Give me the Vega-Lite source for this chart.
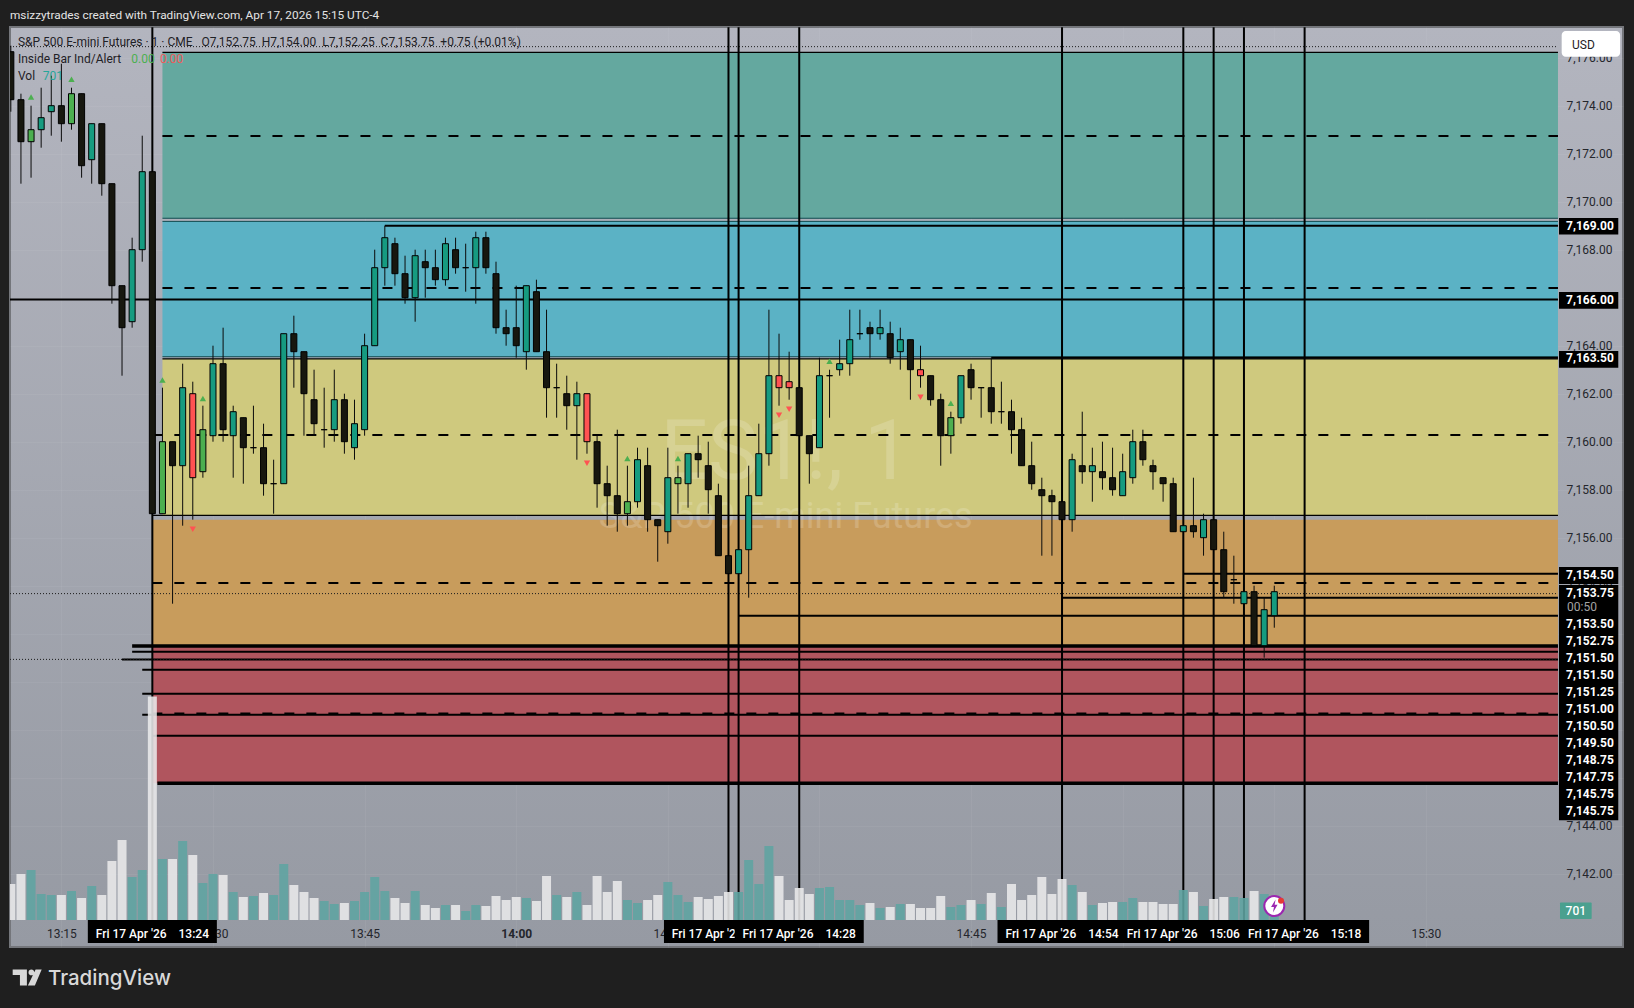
{
  "$schema": "https://vega.github.io/schema/vega-lite/v6.json",
  "autosize": {"type": "none"},
  "padding": {"left": 10, "top": 27, "right": 11, "bottom": 61},
  "width": 1613,
  "height": 920,
  "background": "#1f1f1f",
  "view": {
    "fill": {"gradient": "linear", "x1": 0, "y1": 0, "x2": 0, "y2": 1, "stops": [{"offset": 0, "color": "#b3b5bf"}, {"offset": 1, "color": "#969aa3"}]},
    "stroke": "#74767b",
    "strokeWidth": 2
  },
  "title": {"text": "msizzytrades created with TradingView.com, Apr 17, 2026 15:15 UTC-4", "anchor": "start", "frame": "group", "font": "Roboto", "fontSize": 11.8, "fontWeight": "normal", "color": "#e4e4e4", "offset": 4},
  "resolve": {"scale": {"y": "independent"}, "axis": {"x": "independent", "y": "independent"}},
  "datasets": {
    "bars": [
      {"t":"2026-04-17T13:10Z","o":7176.25,"h":7176.5,"l":7173.75,"c":7174.25,"k":"down","v":1800,"vk":"volDown"},
      {"t":"2026-04-17T13:11Z","o":7174.25,"h":7174.5,"l":7170.75,"c":7172.5,"k":"down","v":2300,"vk":"volDown"},
      {"t":"2026-04-17T13:12Z","o":7172.5,"h":7174,"l":7171,"c":7173,"k":"upInside","v":2500,"vk":"volUp"},
      {"t":"2026-04-17T13:13Z","o":7173,"h":7174.75,"l":7172.25,"c":7173.5,"k":"up","v":1300,"vk":"volUp"},
      {"t":"2026-04-17T13:14Z","o":7173.75,"h":7175.25,"l":7172.75,"c":7174,"k":"up","v":1250,"vk":"volUp"},
      {"t":"2026-04-17T13:15Z","o":7174,"h":7175.75,"l":7172.5,"c":7173.25,"k":"down","v":1250,"vk":"volDown"},
      {"t":"2026-04-17T13:16Z","o":7173.25,"h":7174.75,"l":7173,"c":7174.5,"k":"upInside","v":1450,"vk":"volUp"},
      {"t":"2026-04-17T13:17Z","o":7174.5,"h":7174.5,"l":7171,"c":7171.5,"k":"down","v":1100,"vk":"volDown"},
      {"t":"2026-04-17T13:18Z","o":7171.75,"h":7173.25,"l":7170.75,"c":7173.25,"k":"up","v":1700,"vk":"volUp"},
      {"t":"2026-04-17T13:19Z","o":7173.25,"h":7173.25,"l":7170.25,"c":7170.75,"k":"down","v":1250,"vk":"volDown"},
      {"t":"2026-04-17T13:20Z","o":7170.75,"h":7170.75,"l":7165.75,"c":7166.5,"k":"down","v":2950,"vk":"volDown"},
      {"t":"2026-04-17T13:21Z","o":7166.5,"h":7166.5,"l":7162.75,"c":7164.75,"k":"down","v":4000,"vk":"volDown"},
      {"t":"2026-04-17T13:22Z","o":7165,"h":7168.5,"l":7164.75,"c":7168,"k":"up","v":2150,"vk":"volUp"},
      {"t":"2026-04-17T13:23Z","o":7168,"h":7172.75,"l":7167.5,"c":7171.25,"k":"up","v":2500,"vk":"volUp"},
      {"t":"2026-04-17T13:24Z","o":7171.25,"h":7171.25,"l":7157,"c":7157,"k":"down","v":11170,"vk":"volDown"},
      {"t":"2026-04-17T13:25Z","o":7157,"h":7162.25,"l":7157,"c":7160,"k":"upInside","v":3050,"vk":"volUp"},
      {"t":"2026-04-17T13:26Z","o":7160,"h":7160,"l":7153.25,"c":7159,"k":"down","v":3050,"vk":"volDown"},
      {"t":"2026-04-17T13:27Z","o":7159,"h":7163.25,"l":7156.5,"c":7162.25,"k":"up","v":3950,"vk":"volUp"},
      {"t":"2026-04-17T13:28Z","o":7162,"h":7162.5,"l":7156.75,"c":7158.5,"k":"downInside","v":3250,"vk":"volDown"},
      {"t":"2026-04-17T13:29Z","o":7158.75,"h":7161.5,"l":7158.5,"c":7160.5,"k":"upInside","v":1850,"vk":"volUp"},
      {"t":"2026-04-17T13:30Z","o":7160.25,"h":7164,"l":7160,"c":7163.25,"k":"up","v":2300,"vk":"volUp"},
      {"t":"2026-04-17T13:31Z","o":7163.25,"h":7164.75,"l":7160,"c":7160.5,"k":"down","v":2250,"vk":"volDown"},
      {"t":"2026-04-17T13:32Z","o":7160.25,"h":7161.5,"l":7158.5,"c":7161.25,"k":"up","v":1400,"vk":"volUp"},
      {"t":"2026-04-17T13:33Z","o":7161,"h":7161,"l":7158.25,"c":7159.75,"k":"down","v":1150,"vk":"volDown"},
      {"t":"2026-04-17T13:34Z","o":7159.75,"h":7161.5,"l":7159.5,"c":7159.75,"k":"down","v":1200,"vk":"volUp"},
      {"t":"2026-04-17T13:35Z","o":7159.75,"h":7160.75,"l":7157.75,"c":7158.25,"k":"down","v":1350,"vk":"volDown"},
      {"t":"2026-04-17T13:36Z","o":7158.25,"h":7159.25,"l":7157,"c":7158.25,"k":"down","v":1250,"vk":"volUp"},
      {"t":"2026-04-17T13:37Z","o":7158.25,"h":7164.5,"l":7158.25,"c":7164.5,"k":"up","v":2800,"vk":"volUp"},
      {"t":"2026-04-17T13:38Z","o":7164.5,"h":7165.25,"l":7162.25,"c":7163.75,"k":"down","v":1750,"vk":"volDown"},
      {"t":"2026-04-17T13:39Z","o":7163.75,"h":7163.75,"l":7160.25,"c":7162,"k":"down","v":1400,"vk":"volDown"},
      {"t":"2026-04-17T13:40Z","o":7161.75,"h":7163,"l":7160.25,"c":7160.75,"k":"down","v":1100,"vk":"volDown"},
      {"t":"2026-04-17T13:41Z","o":7160.5,"h":7162.25,"l":7159.75,"c":7160.5,"k":"down","v":950,"vk":"volUp"},
      {"t":"2026-04-17T13:42Z","o":7160.5,"h":7163,"l":7160,"c":7161.75,"k":"up","v":800,"vk":"volUp"},
      {"t":"2026-04-17T13:43Z","o":7161.75,"h":7162,"l":7159.5,"c":7160,"k":"down","v":850,"vk":"volDown"},
      {"t":"2026-04-17T13:44Z","o":7159.75,"h":7161.75,"l":7159.25,"c":7160.75,"k":"up","v":950,"vk":"volUp"},
      {"t":"2026-04-17T13:45Z","o":7160.5,"h":7164.5,"l":7160.25,"c":7164,"k":"up","v":1400,"vk":"volUp"},
      {"t":"2026-04-17T13:46Z","o":7164,"h":7168,"l":7164,"c":7167.25,"k":"up","v":2150,"vk":"volUp"},
      {"t":"2026-04-17T13:47Z","o":7167.25,"h":7169,"l":7166.5,"c":7168.5,"k":"up","v":1450,"vk":"volUp"},
      {"t":"2026-04-17T13:48Z","o":7168.25,"h":7168.5,"l":7166.5,"c":7167,"k":"down","v":1100,"vk":"volDown"},
      {"t":"2026-04-17T13:49Z","o":7167,"h":7167.75,"l":7165.75,"c":7166,"k":"down","v":850,"vk":"volDown"},
      {"t":"2026-04-17T13:50Z","o":7166,"h":7168,"l":7165,"c":7167.75,"k":"up","v":1450,"vk":"volUp"},
      {"t":"2026-04-17T13:51Z","o":7167.5,"h":7168,"l":7166,"c":7167.25,"k":"down","v":750,"vk":"volDown"},
      {"t":"2026-04-17T13:52Z","o":7167.25,"h":7168,"l":7166.5,"c":7166.75,"k":"down","v":600,"vk":"volDown"},
      {"t":"2026-04-17T13:53Z","o":7166.75,"h":7168.5,"l":7166.5,"c":7168.25,"k":"up","v":750,"vk":"volUp"},
      {"t":"2026-04-17T13:54Z","o":7168,"h":7168.5,"l":7167,"c":7167.25,"k":"down","v":750,"vk":"volDown"},
      {"t":"2026-04-17T13:55Z","o":7167.25,"h":7168.25,"l":7166.25,"c":7167.25,"k":"down","v":450,"vk":"volUp"},
      {"t":"2026-04-17T13:56Z","o":7167.25,"h":7168.75,"l":7165.75,"c":7168.5,"k":"up","v":750,"vk":"volUp"},
      {"t":"2026-04-17T13:57Z","o":7168.5,"h":7168.75,"l":7167,"c":7167.25,"k":"down","v":700,"vk":"volDown"},
      {"t":"2026-04-17T13:58Z","o":7167,"h":7167.5,"l":7164.5,"c":7164.75,"k":"down","v":1200,"vk":"volDown"},
      {"t":"2026-04-17T13:59Z","o":7164.75,"h":7165.5,"l":7164,"c":7164.5,"k":"down","v":1000,"vk":"volDown"},
      {"t":"2026-04-17T14:00Z","o":7164.75,"h":7166.5,"l":7163.5,"c":7164,"k":"down","v":1150,"vk":"volDown"},
      {"t":"2026-04-17T14:01Z","o":7163.75,"h":7166.5,"l":7163,"c":7166.5,"k":"up","v":1100,"vk":"volUp"},
      {"t":"2026-04-17T14:02Z","o":7166.25,"h":7166.75,"l":7163.75,"c":7163.75,"k":"down","v":950,"vk":"volDown"},
      {"t":"2026-04-17T14:03Z","o":7163.75,"h":7165.5,"l":7161,"c":7162.25,"k":"down","v":2200,"vk":"volDown"},
      {"t":"2026-04-17T14:04Z","o":7162.25,"h":7163.25,"l":7161,"c":7162.25,"k":"down","v":1250,"vk":"volUp"},
      {"t":"2026-04-17T14:05Z","o":7162,"h":7162.75,"l":7160.5,"c":7161.5,"k":"down","v":1150,"vk":"volDown"},
      {"t":"2026-04-17T14:06Z","o":7161.5,"h":7162.5,"l":7159.25,"c":7162,"k":"up","v":1400,"vk":"volUp"},
      {"t":"2026-04-17T14:07Z","o":7162,"h":7162,"l":7159.5,"c":7160,"k":"downInside","v":750,"vk":"volDown"},
      {"t":"2026-04-17T14:08Z","o":7160,"h":7160.25,"l":7157.25,"c":7158.25,"k":"down","v":2200,"vk":"volDown"},
      {"t":"2026-04-17T14:09Z","o":7158.25,"h":7159,"l":7156.5,"c":7157.75,"k":"down","v":1400,"vk":"volDown"},
      {"t":"2026-04-17T14:10Z","o":7157.75,"h":7160.5,"l":7156.25,"c":7157,"k":"down","v":1950,"vk":"volDown"},
      {"t":"2026-04-17T14:11Z","o":7157,"h":7159,"l":7156.5,"c":7157.5,"k":"upInside","v":1000,"vk":"volUp"},
      {"t":"2026-04-17T14:12Z","o":7157.5,"h":7159.75,"l":7157.25,"c":7159.25,"k":"up","v":850,"vk":"volUp"},
      {"t":"2026-04-17T14:13Z","o":7159,"h":7159.75,"l":7156.25,"c":7156.75,"k":"down","v":1000,"vk":"volDown"},
      {"t":"2026-04-17T14:14Z","o":7156.75,"h":7156.75,"l":7155,"c":7156.5,"k":"down","v":1250,"vk":"volDown"},
      {"t":"2026-04-17T14:15Z","o":7156.25,"h":7159.75,"l":7155.75,"c":7158.5,"k":"up","v":1900,"vk":"volUp"},
      {"t":"2026-04-17T14:16Z","o":7158.25,"h":7159,"l":7157,"c":7158.5,"k":"upInside","v":1250,"vk":"volUp"},
      {"t":"2026-04-17T14:17Z","o":7158.25,"h":7159.5,"l":7157.25,"c":7159.5,"k":"up","v":900,"vk":"volUp"},
      {"t":"2026-04-17T14:18Z","o":7159.5,"h":7160.25,"l":7158.5,"c":7159.25,"k":"down","v":1150,"vk":"volDown"},
      {"t":"2026-04-17T14:19Z","o":7159,"h":7160,"l":7157,"c":7158,"k":"down","v":1050,"vk":"volDown"},
      {"t":"2026-04-17T14:20Z","o":7157.75,"h":7158.25,"l":7155.25,"c":7155.25,"k":"down","v":1200,"vk":"volDown"},
      {"t":"2026-04-17T14:21Z","o":7155.25,"h":7155.25,"l":7154.5,"c":7154.5,"k":"down","v":1400,"vk":"volDown"},
      {"t":"2026-04-17T14:22Z","o":7154.5,"h":7155.5,"l":7154.5,"c":7155.5,"k":"up","v":1400,"vk":"volUp"},
      {"t":"2026-04-17T14:23Z","o":7155.5,"h":7159,"l":7153.5,"c":7157.75,"k":"up","v":3000,"vk":"volUp"},
      {"t":"2026-04-17T14:24Z","o":7157.75,"h":7160.75,"l":7157.75,"c":7159.5,"k":"up","v":1800,"vk":"volUp"},
      {"t":"2026-04-17T14:25Z","o":7159.5,"h":7165.5,"l":7159,"c":7162.75,"k":"up","v":3700,"vk":"volUp"},
      {"t":"2026-04-17T14:26Z","o":7162.75,"h":7164.5,"l":7161.5,"c":7162.25,"k":"downInside","v":2200,"vk":"volDown"},
      {"t":"2026-04-17T14:27Z","o":7162.5,"h":7163.75,"l":7161.75,"c":7162.25,"k":"downInside","v":1000,"vk":"volDown"},
      {"t":"2026-04-17T14:28Z","o":7162.25,"h":7162.25,"l":7160.25,"c":7160.25,"k":"down","v":1600,"vk":"volDown"},
      {"t":"2026-04-17T14:29Z","o":7160.25,"h":7160.25,"l":7158.25,"c":7159.5,"k":"down","v":1300,"vk":"volDown"},
      {"t":"2026-04-17T14:30Z","o":7159.75,"h":7163.5,"l":7159.75,"c":7162.75,"k":"up","v":1600,"vk":"volUp"},
      {"t":"2026-04-17T14:31Z","o":7162.75,"h":7163,"l":7161,"c":7162.75,"k":"down","v":1650,"vk":"volUp"},
      {"t":"2026-04-17T14:32Z","o":7163,"h":7164.25,"l":7162.75,"c":7163.25,"k":"up","v":1000,"vk":"volUp"},
      {"t":"2026-04-17T14:33Z","o":7163.25,"h":7165.5,"l":7162.75,"c":7164.25,"k":"up","v":1000,"vk":"volUp"},
      {"t":"2026-04-17T14:34Z","o":7164.5,"h":7165.5,"l":7164.25,"c":7164.5,"k":"down","v":750,"vk":"volUp"},
      {"t":"2026-04-17T14:35Z","o":7164.75,"h":7165,"l":7163.5,"c":7164.5,"k":"down","v":850,"vk":"volDown"},
      {"t":"2026-04-17T14:36Z","o":7164.5,"h":7165.5,"l":7164.25,"c":7164.75,"k":"up","v":600,"vk":"volUp"},
      {"t":"2026-04-17T14:37Z","o":7164.5,"h":7165,"l":7163.25,"c":7163.5,"k":"down","v":650,"vk":"volDown"},
      {"t":"2026-04-17T14:38Z","o":7163.75,"h":7164.75,"l":7163,"c":7164.25,"k":"up","v":800,"vk":"volUp"},
      {"t":"2026-04-17T14:39Z","o":7164.25,"h":7164.25,"l":7161.75,"c":7163,"k":"down","v":800,"vk":"volDown"},
      {"t":"2026-04-17T14:40Z","o":7163,"h":7164,"l":7162.25,"c":7162.75,"k":"downInside","v":600,"vk":"volDown"},
      {"t":"2026-04-17T14:41Z","o":7162.75,"h":7162.75,"l":7161.5,"c":7161.75,"k":"down","v":600,"vk":"volDown"},
      {"t":"2026-04-17T14:42Z","o":7161.75,"h":7162,"l":7159,"c":7160.25,"k":"down","v":1200,"vk":"volDown"},
      {"t":"2026-04-17T14:43Z","o":7160.25,"h":7161.25,"l":7159.5,"c":7161,"k":"upInside","v":650,"vk":"volUp"},
      {"t":"2026-04-17T14:44Z","o":7161,"h":7162.75,"l":7160.75,"c":7162.75,"k":"up","v":750,"vk":"volUp"},
      {"t":"2026-04-17T14:45Z","o":7163,"h":7163.25,"l":7161.75,"c":7162.25,"k":"down","v":1000,"vk":"volDown"},
      {"t":"2026-04-17T14:46Z","o":7162.25,"h":7162.25,"l":7161,"c":7162.25,"k":"down","v":800,"vk":"volUp"},
      {"t":"2026-04-17T14:47Z","o":7162.25,"h":7163.5,"l":7160.75,"c":7161.25,"k":"down","v":1350,"vk":"volDown"},
      {"t":"2026-04-17T14:48Z","o":7161.25,"h":7162.5,"l":7160.75,"c":7161.25,"k":"down","v":650,"vk":"volUp"},
      {"t":"2026-04-17T14:49Z","o":7161.25,"h":7161.75,"l":7159.5,"c":7160.5,"k":"down","v":1800,"vk":"volDown"},
      {"t":"2026-04-17T14:50Z","o":7160.5,"h":7161,"l":7159,"c":7159,"k":"down","v":1000,"vk":"volDown"},
      {"t":"2026-04-17T14:51Z","o":7159,"h":7160,"l":7158,"c":7158.25,"k":"down","v":1250,"vk":"volDown"},
      {"t":"2026-04-17T14:52Z","o":7158,"h":7158.5,"l":7155.25,"c":7157.75,"k":"down","v":2150,"vk":"volDown"},
      {"t":"2026-04-17T14:53Z","o":7157.75,"h":7158,"l":7155.25,"c":7157.5,"k":"down","v":1300,"vk":"volDown"},
      {"t":"2026-04-17T14:54Z","o":7157.5,"h":7157.5,"l":7156.75,"c":7156.75,"k":"down","v":2050,"vk":"volDown"},
      {"t":"2026-04-17T14:55Z","o":7156.75,"h":7159.5,"l":7156.25,"c":7159.25,"k":"up","v":1750,"vk":"volUp"},
      {"t":"2026-04-17T14:56Z","o":7159,"h":7161.25,"l":7158.25,"c":7158.75,"k":"down","v":1400,"vk":"volDown"},
      {"t":"2026-04-17T14:57Z","o":7158.75,"h":7159.75,"l":7157.5,"c":7159,"k":"up","v":750,"vk":"volUp"},
      {"t":"2026-04-17T14:58Z","o":7158.75,"h":7160,"l":7158,"c":7158.5,"k":"down","v":850,"vk":"volDown"},
      {"t":"2026-04-17T14:59Z","o":7158.5,"h":7159.75,"l":7157.75,"c":7158,"k":"down","v":900,"vk":"volDown"},
      {"t":"2026-04-17T15:00Z","o":7157.75,"h":7159.5,"l":7157.75,"c":7158.75,"k":"up","v":900,"vk":"volUp"},
      {"t":"2026-04-17T15:01Z","o":7158.5,"h":7160.5,"l":7158.25,"c":7160,"k":"up","v":1100,"vk":"volUp"},
      {"t":"2026-04-17T15:02Z","o":7160,"h":7160.5,"l":7159,"c":7159.25,"k":"down","v":900,"vk":"volDown"},
      {"t":"2026-04-17T15:03Z","o":7159,"h":7159.25,"l":7158,"c":7158.75,"k":"down","v":900,"vk":"volDown"},
      {"t":"2026-04-17T15:04Z","o":7158.5,"h":7158.5,"l":7157.5,"c":7158.25,"k":"down","v":800,"vk":"volDown"},
      {"t":"2026-04-17T15:05Z","o":7158.25,"h":7158.5,"l":7156.25,"c":7156.25,"k":"down","v":800,"vk":"volDown"},
      {"t":"2026-04-17T15:06Z","o":7156.25,"h":7156.5,"l":7156.25,"c":7156.5,"k":"up","v":1500,"vk":"volUp"},
      {"t":"2026-04-17T15:07Z","o":7156.5,"h":7158.5,"l":7156,"c":7156.25,"k":"down","v":1400,"vk":"volDown"},
      {"t":"2026-04-17T15:08Z","o":7156,"h":7157,"l":7155.25,"c":7156.75,"k":"up","v":700,"vk":"volUp"},
      {"t":"2026-04-17T15:09Z","o":7156.75,"h":7156.75,"l":7155.5,"c":7155.5,"k":"down","v":1050,"vk":"volDown"},
      {"t":"2026-04-17T15:10Z","o":7155.5,"h":7156.25,"l":7153.5,"c":7153.75,"k":"down","v":1150,"vk":"volDown"},
      {"t":"2026-04-17T15:11Z","o":7154.25,"h":7155.25,"l":7153.25,"c":7154.25,"k":"down","v":1150,"vk":"volUp"},
      {"t":"2026-04-17T15:12Z","o":7153.25,"h":7153.75,"l":7153.25,"c":7153.75,"k":"up","v":1100,"vk":"volUp"},
      {"t":"2026-04-17T15:13Z","o":7153.75,"h":7154,"l":7151.5,"c":7151.5,"k":"down","v":1450,"vk":"volDown"},
      {"t":"2026-04-17T15:14Z","o":7151.5,"h":7153.5,"l":7151,"c":7153,"k":"up","v":1300,"vk":"volUp"},
      {"t":"2026-04-17T15:15Z","o":7152.75,"h":7154,"l":7152.25,"c":7153.75,"k":"up","v":701,"vk":"volUp"}
    ],
    "zones": [
      {"t":"2026-04-17T13:25Z","t2":"2026-04-17T15:43:04Z","p":7176.22,"p2":7169.31,"zone":"teal"},
      {"t":"2026-04-17T13:25Z","t2":"2026-04-17T15:43:04Z","p":7169.18,"p2":7163.54,"zone":"blue"},
      {"t":"2026-04-17T13:25Z","t2":"2026-04-17T15:43:04Z","p":7163.45,"p2":7156.93,"zone":"yellow"},
      {"t":"2026-04-17T13:24Z","t2":"2026-04-17T15:43:04Z","p":7156.75,"p2":7151.49,"zone":"orange"},
      {"t":"2026-04-17T13:24Z","t2":"2026-04-17T15:43:04Z","p":7151.49,"p2":7145.77,"zone":"red"}
    ],
    "levels": [
      {"kind":"dash","t":"2026-04-17T13:25Z","t2":"2026-04-17T15:43:04Z","p":7172.74},
      {"kind":"dash","t":"2026-04-17T13:25Z","t2":"2026-04-17T15:43:04Z","p":7166.4},
      {"kind":"dash","t":"2026-04-17T13:24Z","t2":"2026-04-17T15:43:04Z","p":7160.28},
      {"kind":"dash","t":"2026-04-17T13:24Z","t2":"2026-04-17T15:43:04Z","p":7154.11},
      {"kind":"dash","t":"2026-04-17T13:24Z","t2":"2026-04-17T15:43:04Z","p":7148.68},
      {"kind":"edge","t":"2026-04-17T13:25Z","t2":"2026-04-17T15:43:04Z","p":7176.22},
      {"kind":"edge","t":"2026-04-17T13:25Z","t2":"2026-04-17T15:43:04Z","p":7163.45},
      {"kind":"edge","t":"2026-04-17T13:24Z","t2":"2026-04-17T15:43:04Z","p":7156.93},
      {"kind":"inner","t":"2026-04-17T13:25Z","t2":"2026-04-17T15:43:04Z","p":7169.31},
      {"kind":"inner","t":"2026-04-17T13:25Z","t2":"2026-04-17T15:43:04Z","p":7169.18},
      {"kind":"inner","t":"2026-04-17T13:25Z","t2":"2026-04-17T15:43:04Z","p":7163.54},
      {"kind":"solid","t":"2026-04-17T13:47Z","t2":"2026-04-17T15:43:04Z","p":7169},
      {"kind":"solid","t":"2026-04-17T13:09:55Z","t2":"2026-04-17T15:43:04Z","p":7165.92},
      {"kind":"solid","t":"2026-04-17T14:47Z","t2":"2026-04-17T15:43:04Z","p":7163.5},
      {"kind":"solid","t":"2026-04-17T15:06Z","t2":"2026-04-17T15:43:04Z","p":7154.5},
      {"kind":"solid","t":"2026-04-17T14:54Z","t2":"2026-04-17T15:43:04Z","p":7153.5},
      {"kind":"solid","t":"2026-04-17T14:22Z","t2":"2026-04-17T15:43:04Z","p":7152.75},
      {"kind":"solid","t":"2026-04-17T13:22Z","t2":"2026-04-17T15:43:04Z","p":7151.25},
      {"kind":"solid","t":"2026-04-17T13:21Z","t2":"2026-04-17T15:43:04Z","p":7150.92},
      {"kind":"solid","t":"2026-04-17T13:23Z","t2":"2026-04-17T15:43:04Z","p":7150.5},
      {"kind":"solid","t":"2026-04-17T13:23Z","t2":"2026-04-17T15:43:04Z","p":7149.5},
      {"kind":"solid","t":"2026-04-17T13:23Z","t2":"2026-04-17T15:43:04Z","p":7148.62},
      {"kind":"solid","t":"2026-04-17T13:24Z","t2":"2026-04-17T15:43:04Z","p":7147.75},
      {"kind":"heavy","t":"2026-04-17T13:22Z","t2":"2026-04-17T15:43:04Z","p":7151.49},
      {"kind":"heavy","t":"2026-04-17T13:24:30Z","t2":"2026-04-17T15:43:04Z","p":7145.77},
      {"kind":"dot","t":"2026-04-17T13:09:55Z","t2":"2026-04-17T15:43:04Z","p":7176.46},
      {"kind":"dot","t":"2026-04-17T13:09:55Z","t2":"2026-04-17T15:43:04Z","p":7153.67},
      {"kind":"dot","t":"2026-04-17T13:09:55Z","t2":"2026-04-17T15:43:04Z","p":7150.93}
    ],
    "verticals": [
      {"t":"2026-04-17T13:24Z","p":7177.27,"p2":7139.5},
      {"t":"2026-04-17T14:21Z","p":7177.27,"p2":7139.5},
      {"t":"2026-04-17T14:22Z","p":7177.27,"p2":7139.5},
      {"t":"2026-04-17T14:28Z","p":7177.27,"p2":7139.5},
      {"t":"2026-04-17T14:54Z","p":7177.27,"p2":7139.5},
      {"t":"2026-04-17T15:06Z","p":7177.27,"p2":7139.5},
      {"t":"2026-04-17T15:09Z","p":7177.27,"p2":7139.5},
      {"t":"2026-04-17T15:12Z","p":7177.27,"p2":7139.5},
      {"t":"2026-04-17T15:18Z","p":7177.27,"p2":7139.5}
    ],
    "arrows": [
      {"t":"2026-04-17T13:12Z","p":7174.36,"dir":"up"},
      {"t":"2026-04-17T13:16Z","p":7175.1,"dir":"up"},
      {"t":"2026-04-17T13:25Z","p":7162.57,"dir":"up"},
      {"t":"2026-04-17T13:29Z","p":7161.8,"dir":"up"},
      {"t":"2026-04-17T14:11Z","p":7159.3,"dir":"up"},
      {"t":"2026-04-17T14:16Z","p":7159.3,"dir":"up"},
      {"t":"2026-04-17T14:31Z","p":7163.35,"dir":"up"},
      {"t":"2026-04-17T14:43Z","p":7161.6,"dir":"up"},
      {"t":"2026-04-17T13:28Z","p":7156.35,"dir":"down"},
      {"t":"2026-04-17T14:07Z","p":7159.1,"dir":"down"},
      {"t":"2026-04-17T14:26Z","p":7161.1,"dir":"down"},
      {"t":"2026-04-17T14:27Z","p":7161.35,"dir":"down"},
      {"t":"2026-04-17T14:40Z","p":7161.85,"dir":"down"}
    ],
    "notes": [
      {"t":"2026-04-17T13:10:42Z","p":7176.67,"label":"S&P 500 E-mini Futures · 1 · CME\u00a0\u00a0\u00a0O7,152.75\u00a0\u00a0H7,154.00\u00a0\u00a0L7,152.25\u00a0\u00a0C7,153.75\u00a0\u00a0+0.75 (+0.01%)","tone":"dark"},
      {"t":"2026-04-17T13:10:42Z","p":7175.95,"label":"Inside Bar Ind/Alert","tone":"dark"},
      {"t":"2026-04-17T13:21:55Z","p":7175.95,"label":"0.00","tone":"green"},
      {"t":"2026-04-17T13:24:45Z","p":7175.95,"label":"0.00","tone":"rose"},
      {"t":"2026-04-17T13:10:42Z","p":7175.24,"label":"Vol","tone":"dark"},
      {"t":"2026-04-17T13:13:10Z","p":7175.24,"label":"701","tone":"aqua"}
    ],
    "boxes": [
      {"t":"2026-04-17T13:17:37Z","t2":"2026-04-17T13:30:23Z","p":7140.07,"p2":7139.11,"stack":1},
      {"t":"2026-04-17T14:14:37Z","t2":"2026-04-17T14:27:23Z","p":7140.07,"p2":7139.11,"stack":1},
      {"t":"2026-04-17T14:21:37Z","t2":"2026-04-17T14:34:23Z","p":7140.07,"p2":7139.11,"stack":2},
      {"t":"2026-04-17T14:47:37Z","t2":"2026-04-17T15:00:23Z","p":7140.07,"p2":7139.11,"stack":2},
      {"t":"2026-04-17T14:59:37Z","t2":"2026-04-17T15:12:23Z","p":7140.07,"p2":7139.11,"stack":2},
      {"t":"2026-04-17T15:11:37Z","t2":"2026-04-17T15:24:23Z","p":7140.07,"p2":7139.11,"stack":2},
      {"t":"2026-04-17T15:43:10Z","t2":"2026-04-17T15:49:02Z","p":7169.32,"p2":7168.63,"stack":2},
      {"t":"2026-04-17T15:43:10Z","t2":"2026-04-17T15:49:02Z","p":7166.24,"p2":7165.54,"stack":2},
      {"t":"2026-04-17T15:43:10Z","t2":"2026-04-17T15:49:02Z","p":7163.78,"p2":7163.08,"stack":2},
      {"t":"2026-04-17T15:43:10Z","t2":"2026-04-17T15:49:02Z","p":7154.78,"p2":7154.07,"stack":2},
      {"t":"2026-04-17T15:43:10Z","t2":"2026-04-17T15:49:02Z","p":7154.03,"p2":7144.23,"stack":2}
    ],
    "timeLabels": [
      {"t":"2026-04-17T13:24Z","p":7139.49,"label":"Fri 17 Apr '26\u00a0\u00a0\u00a0\u00a013:24","stack":1},
      {"t":"2026-04-17T14:21Z","p":7139.49,"label":"Fri 17 Apr '26\u00a0\u00a0\u00a0\u00a014:21","stack":1},
      {"t":"2026-04-17T14:28Z","p":7139.49,"label":"Fri 17 Apr '26\u00a0\u00a0\u00a0\u00a014:28","stack":2},
      {"t":"2026-04-17T14:54Z","p":7139.49,"label":"Fri 17 Apr '26\u00a0\u00a0\u00a0\u00a014:54","stack":2},
      {"t":"2026-04-17T15:06Z","p":7139.49,"label":"Fri 17 Apr '26\u00a0\u00a0\u00a0\u00a015:06","stack":2},
      {"t":"2026-04-17T15:18Z","p":7139.49,"label":"Fri 17 Apr '26\u00a0\u00a0\u00a0\u00a015:18","stack":2}
    ],
    "priceTags": [
      {"t":"2026-04-17T15:46:14Z","p":7169,"label":"7,169.00"},
      {"t":"2026-04-17T15:46:14Z","p":7165.9,"label":"7,166.00"},
      {"t":"2026-04-17T15:46:14Z","p":7163.49,"label":"7,163.50"},
      {"t":"2026-04-17T15:46:14Z","p":7154.46,"label":"7,154.50"},
      {"t":"2026-04-17T15:46:14Z","p":7153.71,"label":"7,153.75"},
      {"t":"2026-04-17T15:46:14Z","p":7152.42,"label":"7,153.50"},
      {"t":"2026-04-17T15:46:14Z","p":7151.71,"label":"7,152.75"},
      {"t":"2026-04-17T15:46:14Z","p":7151,"label":"7,151.50"},
      {"t":"2026-04-17T15:46:14Z","p":7150.29,"label":"7,151.50"},
      {"t":"2026-04-17T15:46:14Z","p":7149.58,"label":"7,151.25"},
      {"t":"2026-04-17T15:46:14Z","p":7148.875,"label":"7,151.00"},
      {"t":"2026-04-17T15:46:14Z","p":7148.17,"label":"7,150.50"},
      {"t":"2026-04-17T15:46:14Z","p":7147.46,"label":"7,149.50"},
      {"t":"2026-04-17T15:46:14Z","p":7146.75,"label":"7,148.75"},
      {"t":"2026-04-17T15:46:14Z","p":7146.04,"label":"7,147.75"},
      {"t":"2026-04-17T15:46:14Z","p":7145.33,"label":"7,145.75"},
      {"t":"2026-04-17T15:46:14Z","p":7144.625,"label":"7,145.75"}
    ]
  },
  "layer": [
    {
      "resolve": {"axis": {"x": "independent", "y": "independent"}},
      "encoding": {
        "x": {"field": "t", "type": "temporal", "axis": null, "scale": {"type": "utc", "nice": false, "padding": 0, "domain": ["2026-04-17T13:09:55Z", "2026-04-17T15:49:30Z"]}},
        "y": {"field": "p", "type": "quantitative", "axis": null, "scale": {"domain": [7138.946, 7177.279], "nice": false, "zero": false}}
      },
      "layer": [
        {
          "data": {"name": "zones"},
          "mark": {"type": "rect"},
          "encoding": {
            "x": {
              "field": "t", "type": "temporal",
              "scale": {"type": "utc", "nice": false, "padding": 0, "domain": ["2026-04-17T13:09:55Z", "2026-04-17T15:49:30Z"]},
              "axis": {
                "title": null, "orient": "bottom", "offset": -27, "domain": false, "ticks": false, "format": "%H:%M", "labelPadding": 8,
                "labelFont": "Roboto", "labelFontSize": 12, "labelColor": "#24262c", "labelFlush": false, "labelOverlap": false,
                "labelFontWeight": {"condition": {"test": "utchours(datum.value) == 14 && utcminutes(datum.value) == 0", "value": "bold"}, "value": "normal"},
                "values": ["2026-04-17T13:15Z","2026-04-17T13:30Z","2026-04-17T13:45Z","2026-04-17T14:00Z","2026-04-17T14:15Z","2026-04-17T14:30Z","2026-04-17T14:45Z","2026-04-17T15:00Z","2026-04-17T15:15Z","2026-04-17T15:30Z"],
                "grid": true, "gridColor": "#ffffff", "gridOpacity": 0.05
              }
            },
            "y": {
              "field": "p", "type": "quantitative",
              "scale": {"domain": [7138.946, 7177.279], "nice": false, "zero": false},
              "axis": {
                "title": null, "orient": "right", "offset": -57, "domain": false, "ticks": false, "format": ",.2f", "labelPadding": 0, "labelAlign": "left",
                "labelFont": "Roboto", "labelFontSize": 12, "labelColor": "#24262c", "labelOverlap": false,
                "values": [7142,7144,7146,7148,7150,7152,7154,7156,7158,7160,7162,7164,7166,7168,7170,7172,7174,7176],
                "grid": true, "gridColor": "#ffffff", "gridOpacity": 0.05
              }
            },
            "x2": {"field": "t2", "type": "temporal"},
            "y2": {"field": "p2"},
            "color": {"field": "zone", "type": "nominal", "legend": null, "scale": {"domain": ["up","down","upInside","downInside","teal","blue","yellow","orange","red","volUp","volDown","dark","green","rose","aqua"], "range": ["#169b80","#17170f","#4caf50","#ff5252","#64a89f","#5bb2c5","#cfc97e","#c89c5c","#b0555e","#5fa4a2","#e9e9eb","#1f2126","#4caf50","#f05a5a","#26a69a"]}}
          }
        },
        {
          "data": {"values": [{"t": "2026-04-17T14:26:40Z", "p": 7159.5, "label": "ES1!, 1"}]},
          "mark": {"type": "text", "font": "Roboto", "fontSize": 84, "color": "#ffffff", "opacity": 0.17, "baseline": "middle"},
          "encoding": {"text": {"field": "label"}}
        },
        {
          "data": {"values": [{"t": "2026-04-17T14:26:40Z", "p": 7156.88, "label": "S&P 500 E-mini Futures"}]},
          "mark": {"type": "text", "font": "Roboto", "fontSize": 36, "color": "#ffffff", "opacity": 0.17, "baseline": "middle"},
          "encoding": {"text": {"field": "label"}}
        },
        {
          "data": {"name": "levels"},
          "transform": [{"filter": "datum.kind == 'dash'"}],
          "mark": {"type": "rule", "color": "#000000", "strokeWidth": 2, "strokeDash": [10, 12]},
          "encoding": {"x2": {"field": "t2", "type": "temporal"}}
        },
        {
          "data": {"name": "levels"},
          "transform": [{"filter": "datum.kind == 'edge'"}],
          "mark": {"type": "rule", "color": "#000000", "strokeWidth": 1.2},
          "encoding": {"x2": {"field": "t2", "type": "temporal"}}
        },
        {
          "data": {"name": "levels"},
          "transform": [{"filter": "datum.kind == 'inner'"}],
          "mark": {"type": "rule", "color": "#0f4b50", "strokeWidth": 1},
          "encoding": {"x2": {"field": "t2", "type": "temporal"}}
        },
        {
          "data": {"name": "levels"},
          "transform": [{"filter": "datum.kind == 'solid'"}],
          "mark": {"type": "rule", "color": "#000000", "strokeWidth": 2},
          "encoding": {"x2": {"field": "t2", "type": "temporal"}}
        },
        {
          "data": {"name": "levels"},
          "transform": [{"filter": "datum.kind == 'heavy'"}],
          "mark": {"type": "rule", "color": "#000000", "strokeWidth": 3.5},
          "encoding": {"x2": {"field": "t2", "type": "temporal"}}
        },
        {
          "data": {"name": "levels"},
          "transform": [{"filter": "datum.kind == 'dot'"}],
          "mark": {"type": "rule", "color": "#1c1c1c", "strokeWidth": 1, "strokeDash": [1, 2]},
          "encoding": {"x2": {"field": "t2", "type": "temporal"}}
        },
        {
          "data": {"name": "verticals"},
          "mark": {"type": "rule", "color": "#000000", "strokeWidth": 2},
          "encoding": {"y2": {"field": "p2"}}
        },
        {
          "data": {"name": "bars"},
          "mark": {"type": "rule", "color": "#0b0b0b", "strokeWidth": 1, "clip": true},
          "encoding": {
            "y": {"field": "h", "type": "quantitative", "scale": {"domain": [7138.946, 7177.279], "nice": false, "zero": false}, "axis": null},
            "y2": {"field": "l"}
          }
        },
        {
          "data": {"name": "bars"},
          "mark": {"type": "bar", "size": 6, "stroke": "#000000", "strokeWidth": 1, "clip": true},
          "encoding": {
            "y": {"field": "o", "type": "quantitative", "scale": {"domain": [7138.946, 7177.279], "nice": false, "zero": false}, "axis": null},
            "y2": {"field": "c"},
            "color": {"field": "k", "type": "nominal", "legend": null, "scale": {"domain": ["up","down","upInside","downInside","teal","blue","yellow","orange","red","volUp","volDown","dark","green","rose","aqua"], "range": ["#169b80","#17170f","#4caf50","#ff5252","#64a89f","#5bb2c5","#cfc97e","#c89c5c","#b0555e","#5fa4a2","#e9e9eb","#1f2126","#4caf50","#f05a5a","#26a69a"]}}
          }
        },
        {
          "data": {"name": "arrows"},
          "transform": [{"filter": "datum.dir == 'up'"}],
          "mark": {"type": "point", "shape": "triangle-up", "filled": true, "opacity": 1, "size": 40, "color": "#4caf50"}
        },
        {
          "data": {"name": "arrows"},
          "transform": [{"filter": "datum.dir == 'down'"}],
          "mark": {"type": "point", "shape": "triangle-down", "filled": true, "opacity": 1, "size": 40, "color": "#ff5252"}
        },
        {
          "data": {"name": "notes"},
          "mark": {"type": "text", "align": "left", "baseline": "middle", "font": "Roboto", "fontSize": 12},
          "encoding": {
            "text": {"field": "label"},
            "color": {"field": "tone", "type": "nominal", "legend": null, "scale": {"domain": ["up","down","upInside","downInside","teal","blue","yellow","orange","red","volUp","volDown","dark","green","rose","aqua"], "range": ["#169b80","#17170f","#4caf50","#ff5252","#64a89f","#5bb2c5","#cfc97e","#c89c5c","#b0555e","#5fa4a2","#e9e9eb","#1f2126","#4caf50","#f05a5a","#26a69a"]}}
          }
        },
        {
          "data": {"name": "boxes"},
          "transform": [{"filter": "datum.stack == 1"}],
          "mark": {"type": "rect", "color": "#000000"},
          "encoding": {"x2": {"field": "t2", "type": "temporal"}, "y2": {"field": "p2"}}
        },
        {
          "data": {"name": "timeLabels"},
          "transform": [{"filter": "datum.stack == 1"}],
          "mark": {"type": "text", "font": "Roboto", "fontSize": 12, "fontWeight": 500, "color": "#ffffff", "baseline": "middle"},
          "encoding": {"text": {"field": "label"}}
        },
        {
          "data": {"name": "boxes"},
          "transform": [{"filter": "datum.stack == 2"}],
          "mark": {"type": "rect", "color": "#000000"},
          "encoding": {"x2": {"field": "t2", "type": "temporal"}, "y2": {"field": "p2"}}
        },
        {
          "data": {"name": "timeLabels"},
          "transform": [{"filter": "datum.stack == 2"}],
          "mark": {"type": "text", "font": "Roboto", "fontSize": 12, "fontWeight": 500, "color": "#ffffff", "baseline": "middle"},
          "encoding": {"text": {"field": "label"}}
        },
        {
          "data": {"name": "priceTags"},
          "mark": {"type": "text", "font": "Roboto", "fontSize": 12, "fontWeight": "bold", "color": "#ffffff", "baseline": "middle"},
          "encoding": {"text": {"field": "label"}}
        },
        {
          "data": {"values": [{"t": "2026-04-17T15:43:58Z", "p": 7153.125, "label": "00:50"}]},
          "mark": {"type": "text", "font": "Roboto", "fontSize": 12, "color": "#a3a3a3", "align": "left", "baseline": "middle"},
          "encoding": {"text": {"field": "label"}}
        },
        {
          "data": {"values": [{"t": "2026-04-17T15:43:26Z", "t2": "2026-04-17T15:49:13Z", "p": 7177.11, "p2": 7176.04}]},
          "mark": {"type": "rect", "color": "#ffffff", "cornerRadius": 4},
          "encoding": {"x2": {"field": "t2", "type": "temporal"}, "y2": {"field": "p2"}}
        },
        {
          "data": {"values": [{"t": "2026-04-17T15:45:35Z", "p": 7176.52, "label": "USD"}]},
          "mark": {"type": "text", "font": "Roboto", "fontSize": 12, "color": "#1f2126", "baseline": "middle"},
          "encoding": {"text": {"field": "label"}}
        },
        {
          "data": {"values": [{"t": "2026-04-17T13:11:37Z", "p": 7137.68}]},
          "mark": {"type": "point", "filled": true, "opacity": 1, "color": "#d8d8d8", "size": 841, "shape": "M-1,-0.54 L-0.02,-0.54 L-0.02,0.56 L-0.5,0.56 L-0.5,-0.17 L-1,-0.17 Z M0.09,-0.34 A0.2,0.2 0 1 1 0.49,-0.34 A0.2,0.2 0 1 1 0.09,-0.34 Z M0.58,-0.54 L1,-0.54 L0.53,0.56 L0.05,0.56 Z"}
        },
        {
          "data": {"values": [{"t": "2026-04-17T13:13:40Z", "p": 7137.62, "label": "TradingView"}]},
          "mark": {"type": "text", "font": "Inter", "fontSize": 20.5, "fontWeight": 500, "color": "#d8d8d8", "align": "left", "baseline": "middle"},
          "encoding": {"text": {"field": "label"}}
        }
      ]
    },
    {
      "encoding": {
        "x": {"field": "t", "type": "temporal", "axis": null, "scale": {"type": "utc", "nice": false, "padding": 0, "domain": ["2026-04-17T13:09:55Z", "2026-04-17T15:49:30Z"]}},
        "y": {"field": "v", "type": "quantitative", "axis": null, "scale": {"domain": [-1350, 44650], "nice": false, "zero": false}}
      },
      "layer": [
        {
          "data": {"name": "bars"},
          "mark": {"type": "bar", "size": 9, "opacity": 0.88, "clip": true},
          "encoding": {
            "y2": {"datum": 0},
            "color": {"field": "vk", "type": "nominal", "legend": null, "scale": {"domain": ["up","down","upInside","downInside","teal","blue","yellow","orange","red","volUp","volDown","dark","green","rose","aqua"], "range": ["#169b80","#17170f","#4caf50","#ff5252","#64a89f","#5bb2c5","#cfc97e","#c89c5c","#b0555e","#5fa4a2","#e9e9eb","#1f2126","#4caf50","#f05a5a","#26a69a"]}}
          }
        },
        {
          "data": {"values": [{"t": "2026-04-17T15:43:16Z", "t2": "2026-04-17T15:46:24Z", "v": 875, "v2": 50}]},
          "mark": {"type": "rect", "color": "#4aa08f", "cornerRadius": 1},
          "encoding": {"x2": {"field": "t2", "type": "temporal"}, "y2": {"field": "v2"}}
        },
        {
          "data": {"values": [{"t": "2026-04-17T15:44:50Z", "v": 450, "label": "701"}]},
          "mark": {"type": "text", "font": "Roboto", "fontSize": 12, "fontWeight": 500, "color": "#ffffff", "baseline": "middle"},
          "encoding": {"text": {"field": "label"}}
        },
        {
          "data": {"values": [{"t": "2026-04-17T15:15Z", "v": 700}]},
          "mark": {"type": "point", "shape": "circle", "filled": true, "opacity": 1, "size": 400, "color": "#ffffff", "stroke": "#9c27b0", "strokeWidth": 2}
        },
        {
          "data": {"values": [{"t": "2026-04-17T15:15Z", "v": 700}]},
          "mark": {"type": "point", "filled": true, "opacity": 1, "size": 170, "color": "#9c27b0", "shape": "M0.2,-1 L-0.5,0.15 L-0.05,0.15 L-0.2,1 L0.5,-0.2 L0.05,-0.2 Z"}
        },
        {
          "data": {"values": [{"t": "2026-04-17T15:15:40Z", "v": 965}]},
          "mark": {"type": "point", "shape": "circle", "filled": true, "opacity": 1, "size": 36, "color": "#e53935"}
        }
      ]
    }
  ]
}
